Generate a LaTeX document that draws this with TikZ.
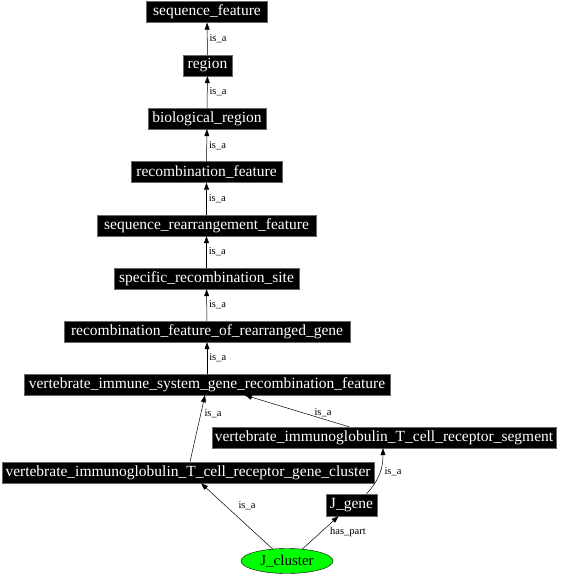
\documentclass[tikz,border=0pt]{standalone}
\usepackage{fontspec}
\setmainfont{Liberation Serif}
\usetikzlibrary{arrows.meta,calc,shapes.geometric}
\begin{document}
\begin{tikzpicture}[x=1pt,y=-1pt,
  term/.style={fill=black,draw=black!60,line width=0.4pt,text=white,inner xsep=0pt,inner ysep=0pt,minimum height=21pt,font=\fontsize{15.5}{15.5}\selectfont},
  lbl/.style={font=\fontsize{10.5}{10.5}\selectfont,inner sep=0pt},
  edge/.style={draw=black,line width=0.5pt,-{Triangle[length=7pt,width=5pt]}}]
\useasboundingbox (0,0) rectangle (560,576);
\node[term,minimum width=121pt] (sf) at (207,12) {sequence\_feature};
\node[term,minimum width=49pt] (rg) at (207.5,65.5) {region};
\node[term,minimum width=118pt] (br) at (207,118.5) {biological\_region};
\node[term,minimum width=151pt] (rf) at (206.5,172) {recombination\_feature};
\node[term,minimum width=219pt] (srf) at (206.5,225.5) {sequence\_rearrangement\_feature};
\node[term,minimum width=185pt] (srs) at (206.5,278.5) {specific\_recombination\_site};
\node[term,minimum width=286pt] (rfr) at (207,331.5) {recombination\_feature\_of\_rearranged\_gene};
\node[term,minimum width=366pt] (vis) at (207,384.5) {vertebrate\_immune\_system\_gene\_recombination\_feature};
\node[term,minimum width=344pt] (seg) at (384,437.5) {vertebrate\_immunoglobulin\_T\_cell\_receptor\_segment};
\node[term,minimum width=372pt] (gc) at (188,472.5) {vertebrate\_immunoglobulin\_T\_cell\_receptor\_gene\_cluster};
\node[term,minimum width=51pt,minimum height=22pt] (jg) at (351.5,505) {J\_gene};
\node[ellipse,fill=green,draw=black,line width=0.4pt,minimum width=92pt,minimum height=25pt,inner sep=0pt,font=\fontsize{15}{15}\selectfont] (jc) at (287,561) {J\_cluster};

\draw[edge] (rg) -- (sf) node[lbl,midway,anchor=west,xshift=2pt] {is\_a};
\draw[edge] (br) -- (rg) node[lbl,midway,anchor=west,xshift=2pt] {is\_a};
\draw[edge] (rf) -- (br) node[lbl,midway,anchor=west,xshift=2pt] {is\_a};
\draw[edge] (srf) -- (rf) node[lbl,midway,anchor=west,xshift=2pt] {is\_a};
\draw[edge] (srs) -- (srf) node[lbl,midway,anchor=west,xshift=2pt] {is\_a};
\draw[edge] (rfr) -- (srs) node[lbl,midway,anchor=west,xshift=2pt] {is\_a};
\draw[edge] (vis) -- (rfr) node[lbl,midway,anchor=west,xshift=2pt] {is\_a};
\draw[edge] ($(gc.north)+(2,0)$) -- ($(vis.south)+(-2,0)$);
\node[lbl] (l1) at (213,414) {is\_a};
\draw[edge] ($(seg.north)+(-35,0)$) -- ($(vis.south)+(38,0)$);
\node[lbl] (l2) at (323,413) {is\_a};
\draw[edge] ($(jg.north)+(15,0)$) .. controls ($(jg.north)+(28,-14)$) and ($(seg.south)+(-1,20)$) .. ($(seg.south)+(-1,0)$);
\node[lbl] (l3) at (393,472) {is\_a};
\draw[edge] ($(jc.north)+(-14,1)$) -- ($(gc.south)+(13,0)$);
\node[lbl] (l4) at (247,506) {is\_a};
\draw[edge] ($(jc.north)+(15,1)$) -- ($(jg.south)+(-13,0)$);
\node[lbl] (l5) at (348,532) {has\_part};
\end{tikzpicture}
\end{document}
